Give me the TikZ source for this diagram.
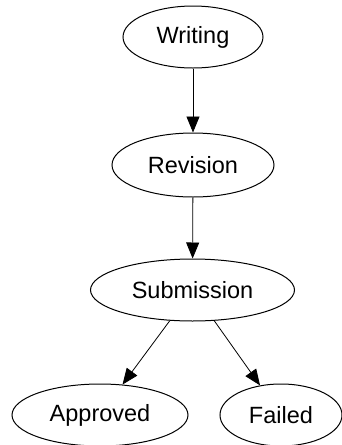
\documentclass[tikz,border=0pt]{standalone}
\usepackage{fontspec}
\setmainfont{Liberation Sans}
\usetikzlibrary{shapes.geometric,arrows.meta}
\begin{document}
\begin{tikzpicture}[x=1pt,y=-1pt,
  state/.style={draw,ellipse,line width=1pt,inner sep=0pt,
    font=\fontsize{23.5}{28}\selectfont},
  flow/.style={line width=0.8pt,-{Triangle[length=16pt,width=13pt]}}]
  \useasboundingbox (0,0) rectangle (342,445);
  \node[state,minimum width=140pt,minimum height=62pt] (w) at (193,37) {Writing};
  \node[state,minimum width=162pt,minimum height=64pt] (r) at (193,165) {Revision};
  \node[state,minimum width=204pt,minimum height=62pt] (s) at (192.5,290) {Submission};
  \node[state,minimum width=176pt,minimum height=62pt] (a) at (100,415) {Approved};
  \node[state,minimum width=122pt,minimum height=62pt] (f) at (281,415) {Failed};
  \draw[flow] (w) -- (r);
  \draw[flow] (r) -- (s);
  \draw[flow] (s) -- (a);
  \draw[flow] (s) -- (f);
\end{tikzpicture}
\end{document}
